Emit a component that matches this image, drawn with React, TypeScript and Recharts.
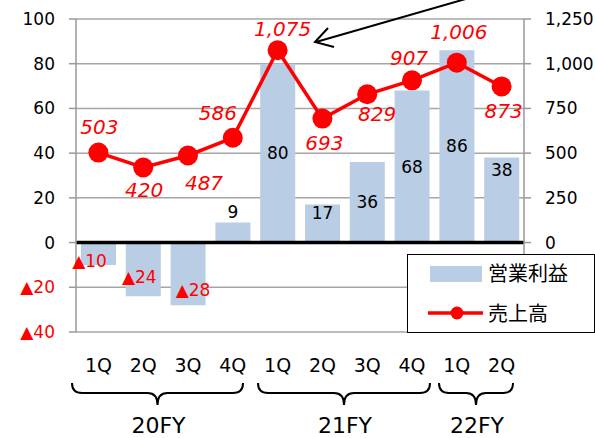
import React from 'react';
import {
  ComposedChart,
  Bar,
  Line,
  XAxis,
  YAxis,
  CartesianGrid,
  ReferenceLine,
  LabelList,
  Legend,
} from 'recharts';

// quarterly figures
const quarters = ['1Q', '2Q', '3Q', '4Q', '1Q', '2Q', '3Q', '4Q', '1Q', '2Q'];
const fiscalYears = ['20FY', '20FY', '20FY', '20FY', '21FY', '21FY', '21FY', '21FY', '22FY', '22FY'];
const operatingProfit = [-10, -24, -28, 9, 80, 17, 36, 68, 86, 38];
const sales = [503, 420, 487, 586, 1075, 693, 829, 907, 1006, 873];
const leftTicks = [-40, -20, 0, 20, 40, 60, 80, 100];
const rightTicks = [0, 250, 500, 750, 1000, 1250];

const chartData = quarters.map((q, i) => ({
  key: `${fiscalYears[i]} ${q}`,
  quarter: q,
  profit: operatingProfit[i],
  sales: sales[i],
}));

// label nudges (px) so the numbers sit where the slide put them
const barLabelShift = [[-9, 7], [-4, 8], [5, 16], [0, -20], [0, 0], [0, -11], [0, 0], [0, 0], [0, 0], [0, -30]];
const lineLabelShift = [[1, -26], [1, 23], [16, 28], [-15, -25], [5, -21], [2, 24], [10, 20], [-3, -22], [2, -31], [2, 25]];

const NUM_FONT = '"DejaVu Sans", Verdana, sans-serif';
const JP_FONT = '"Noto Sans CJK JP", sans-serif';
const RED = '#ff0000';
const BAR_BLUE = '#b9cde5';

const fmt = (v: number) => v.toLocaleString('en-US');

const LeftTick = (props: any) => {
  const { x, y, payload } = props;
  const v = payload.value as number;
  const neg = v < 0;
  return (
    <text x={x} y={y} dy="0.35em" textAnchor="end" fontSize={17} fontFamily={NUM_FONT} fill={neg ? RED : '#000'}>
      {neg ? `▲${Math.abs(v)}` : v}
    </text>
  );
};

const BarValueLabel = (props: any) => {
  const { x, y, width, height, value, index } = props;
  const top = Math.min(y, y + height);
  const mid = top + Math.abs(height) / 2;
  const [dx, dy] = barLabelShift[index] || [0, 0];
  const neg = value < 0;
  return (
    <text
      x={x + width / 2 + dx}
      y={mid + dy}
      dy="0.35em"
      textAnchor="middle"
      fontSize={17}
      fontFamily={NUM_FONT}
      fill={neg ? RED : '#000'}
    >
      {neg ? `▲${Math.abs(value)}` : value}
    </text>
  );
};

const LineValueLabel = (props: any) => {
  const { x, y, value, index } = props;
  const [dx, dy] = lineLabelShift[index] || [0, -20];
  return (
    <text
      x={x + dx}
      y={y + dy}
      dy="0.35em"
      textAnchor="middle"
      fontSize={20}
      fontStyle="italic"
      fontFamily={NUM_FONT}
      fill={RED}
    >
      {fmt(value)}
    </text>
  );
};

const LegendBox = () => (
  <div
    style={{
      width: 186,
      height: 77,
      border: '1px solid #000',
      background: '#fff',
      fontFamily: JP_FONT,
      fontSize: 20,
      color: '#000',
      position: 'relative',
    }}
  >
    <div style={{ position: 'absolute', left: 22, top: 11, width: 52, height: 16, background: BAR_BLUE }} />
    <div style={{ position: 'absolute', left: 80, top: 3, lineHeight: '30px' }}>営業利益</div>
    <svg style={{ position: 'absolute', left: 20, top: 50 }} width={56} height={18}>
      <line x1={0} y1={8} x2={55} y2={8} stroke={RED} strokeWidth={3.5} />
      <circle cx={29} cy={8} r={6.5} fill={RED} />
    </svg>
    <div style={{ position: 'absolute', left: 80, top: 43, lineHeight: '30px' }}>売上高</div>
  </div>
);

const Brace = ({ x1, x2, label }: { x1: number; x2: number; label: string }) => {
  const m = (x1 + x2) / 2;
  const top = 383;
  const h = 393;
  const tip = 405;
  const d = `M${x1},${top} Q${x1},${h} ${x1 + 10},${h} L${m - 10},${h} Q${m},${h} ${m},${tip} Q${m},${h} ${m + 10},${h} L${x2 - 10},${h} Q${x2},${h} ${x2},${top}`;
  return (
    <g>
      <path d={d} fill="none" stroke="#000" strokeWidth={2} />
      <text x={m + 1} y={433} textAnchor="middle" fontSize={22} fontFamily={NUM_FONT} fill="#000">
        {label}
      </text>
    </g>
  );
};

export default function App() {
  return (
    <div style={{ position: 'absolute', left: 0, top: 0, width: 595, height: 438, background: '#fff', overflow: 'hidden' }}>
      <ComposedChart
        width={595}
        height={438}
        data={chartData}
        margin={{ top: 19, right: 0, bottom: 66, left: 0 }}
        barCategoryGap="22%"
      >
        <CartesianGrid yAxisId="left" vertical={false} stroke="#a6a6a6" strokeWidth={1.5} />
        <XAxis
          dataKey="key"
          tickFormatter={(_: any, i: number) => quarters[i]}
          axisLine={false}
          tickLine={false}
          height={40}
          interval={0}
          tickMargin={21}
          tick={{ fontSize: 19, fontFamily: NUM_FONT, fill: '#000' }}
        />
        <YAxis
          yAxisId="left"
          width={76}
          domain={[-40, 100]}
          ticks={leftTicks}
          interval={0}
          tickSize={7}
          tickMargin={14}
          axisLine={{ stroke: '#999', strokeWidth: 1.5 }}
          tickLine={{ stroke: '#999', strokeWidth: 1.5 }}
          tick={<LeftTick />}
        />
        <YAxis
          yAxisId="right"
          orientation="right"
          width={71}
          domain={[-500, 1250]}
          ticks={rightTicks}
          interval={0}
          tickSize={7}
          tickMargin={14}
          tickFormatter={fmt}
          axisLine={{ stroke: '#999', strokeWidth: 1.5 }}
          tickLine={{ stroke: '#999', strokeWidth: 1.5 }}
          tick={{ fontSize: 17, fontFamily: NUM_FONT, fill: '#000', textAnchor: 'start' }}
        />
        <Bar yAxisId="left" dataKey="profit" name="営業利益" fill={BAR_BLUE} barSize={35} isAnimationActive={false}>
          <LabelList dataKey="profit" content={<BarValueLabel />} />
        </Bar>
        <ReferenceLine yAxisId="left" y={0} stroke="#000" strokeWidth={3.5} />
        <Line
          yAxisId="right"
          dataKey="sales"
          name="売上高"
          type="linear"
          stroke={RED}
          strokeWidth={3.5}
          dot={{ r: 10, fill: RED, stroke: RED, strokeWidth: 0 }}
          activeDot={false}
          isAnimationActive={false}
        >
          <LabelList dataKey="sales" content={<LineValueLabel />} />
        </Line>
        <Legend
          layout="vertical"
          align="center"
          verticalAlign="middle"
          content={<LegendBox />}
          wrapperStyle={{ position: 'absolute', left: 407, top: 254, width: 188, height: 79 }}
        />
      </ComposedChart>
      <svg
        width={595}
        height={438}
        style={{ position: 'absolute', left: 0, top: 0, pointerEvents: 'none' }}
      >
        {/* annotation arrow pointing at the 21FY 1Q peak */}
        <line x1={476} y1={-4} x2={316} y2={42} stroke="#000" strokeWidth={2} />
        <polyline points="328,28 315,42 334,47" fill="none" stroke="#000" strokeWidth={2} />
        <Brace x1={72} x2={243} label="20FY" />
        <Brace x1={258} x2={430} label="21FY" />
        <Brace x1={439} x2={513} label="22FY" />
      </svg>
    </div>
  );
}
